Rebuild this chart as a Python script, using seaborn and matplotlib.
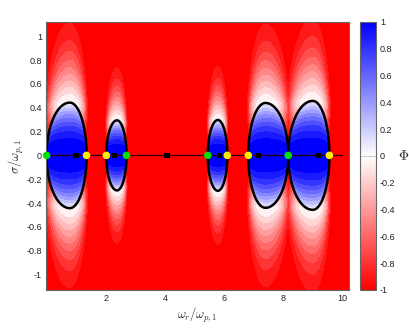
import numpy as np
import matplotlib
matplotlib.use("Agg")
import matplotlib.pyplot as plt
import seaborn as sns
import pandas as pd
from matplotlib.cm import ScalarMappable
from matplotlib.colors import Normalize

# ---- data ----
lobe_left = [0.00, 2.02, 5.45, 6.82, 8.17]
lobe_peak = [0.785, 2.38, 5.79, 7.40, 9.00]
lobe_right = [1.35, 2.70, 6.11, 8.17, 9.56]
lobe_height = [0.443, 0.294, 0.297, 0.44, 0.457]

green_x = [0.0, 2.70, 5.45, 8.17]
yellow_x = [1.35, 2.02, 6.11, 6.82, 9.56]
square_x = [0.99, 2.30, 4.08, 5.85, 7.17, 9.19]

cbar_ticks = [-1, -0.8, -0.6, -0.4, -0.2, 0, 0.2, 0.4, 0.6, 0.8, 1]
x_ticks = [2, 4, 6, 8, 10]
y_ticks = [-1, -0.8, -0.6, -0.4, -0.2, 0, 0.2, 0.4, 0.6, 0.8, 1]

sns.set_theme(style="white")
plt.rcParams['font.family'] = ['Liberation Sans', 'DejaVu Sans']
plt.rcParams['mathtext.fontset'] = 'cm'
plt.rcParams['axes.unicode_minus'] = False

fig = plt.figure(figsize=(4.09, 3.28), dpi=100)
ax = fig.add_axes([0.1125, 0.1159, 0.7405, 0.8171])
cax = fig.add_axes([0.880, 0.1159, 0.039, 0.8171])

xg = np.linspace(0.0, 10.25, 700)
yg = np.linspace(-1.13, 1.13, 451)
X, Y = np.meshgrid(xg, yg)

alpha = 0.1


def lobe_field(L, P, R, b):
    dx = X - P
    a = np.where(dx < 0, P - L, R - P)
    lo = np.full(X.shape, 1e-6)
    hi = np.full(X.shape, 30.0)
    for _ in range(45):
        k = 0.5 * (lo + hi)
        ak = np.where(k <= 1, a, a * (1 + alpha * (k - 1)))
        f = (dx / ak) ** 2 + (Y / (b * k)) ** 2 - 1
        inside = f <= 0
        hi = np.where(inside, k, hi)
        lo = np.where(inside, lo, k)
    s = 0.5 * (lo + hi)
    u2 = np.clip((dx / a) ** 2, 0, 0.999999)
    kin = np.abs(Y) / (b * (1 - u2) ** 0.25)
    phi_in = np.clip(1 - kin ** 2, 0, 1)
    v = np.abs(Y) / b
    phi_out = -np.tanh(0.9 * np.clip(s - 1, 0, None) ** 1.2 + 3.0 * np.clip(1 - v, 0, None) ** 1.5)
    return s, np.where(s < 1, phi_in, phi_out)


Ks = []
Phi = np.full(X.shape, -1.0)
for L, P, R, b in zip(lobe_left, lobe_peak, lobe_right, lobe_height):
    s, phi_i = lobe_field(L, P, R, b)
    Ks.append(s)
    Phi = np.maximum(Phi, phi_i)
Phi = np.clip(Phi, -0.9999, 0.9999)

cmap = plt.get_cmap('bwr_r')
levels = np.linspace(-1, 1, 21)
band_colors = [cmap(v) for v in np.linspace(0, 1, len(levels) - 1)]
ax.contourf(X, Y, Phi, levels=levels, colors=band_colors)
for K in Ks:
    ax.contour(X, Y, K, levels=[1.0], colors='black', linewidths=1.8)

line_df = pd.DataFrame({'x': [0.0, 10.0], 'y': [0.0, 0.0]})
sns.lineplot(data=line_df, x='x', y='y', color='#300000', lw=0.9, ax=ax)

g_df = pd.DataFrame({'x': green_x, 'y': np.zeros(len(green_x))})
y_df = pd.DataFrame({'x': yellow_x, 'y': np.zeros(len(yellow_x))})
s_df = pd.DataFrame({'x': square_x, 'y': np.zeros(len(square_x))})
sns.scatterplot(data=g_df, x='x', y='y', color='#00e000', s=30, edgecolor='none', ax=ax, zorder=5, clip_on=False)
sns.scatterplot(data=y_df, x='x', y='y', color='#ffee00', s=30, edgecolor='none', ax=ax, zorder=5, clip_on=False)
sns.scatterplot(data=s_df, x='x', y='y', color='black', marker='s', s=16, edgecolor='none', ax=ax, zorder=5, clip_on=False)

ax.set_xlim(-0.02, 10.22)
ax.set_ylim(-1.13, 1.12)
ax.set_xticks(x_ticks)
ax.set_yticks(y_ticks)
ax.set_xticklabels([f"{t:g}" for t in x_ticks])
ax.set_yticklabels([f"{t:g}" for t in y_ticks])
ax.tick_params(direction='in', length=3, width=0.6, colors='#555555', labelcolor='#222222',
               labelsize=6.5, top=True, right=True, bottom=True, left=True, pad=3)
for sp in ax.spines.values():
    sp.set_color('#666666')
    sp.set_linewidth(0.8)
ax.set_xlabel(r'$\omega_r/\omega_{p,1}$', fontsize=9, labelpad=2)
ax.set_ylabel(r'$\sigma/\omega_{p,1}$', fontsize=9, labelpad=0)

sm = ScalarMappable(norm=Normalize(-1, 1), cmap=cmap)
cb = fig.colorbar(sm, cax=cax)
cb.set_ticks(cbar_ticks)
cb.set_ticklabels([f"{t:g}" for t in cbar_ticks])
cax.axhline(0, color='#cccccc', lw=0.8)
cax.tick_params(direction='in', length=3, width=0.6, colors='#777777', labelcolor='#222222',
                labelsize=6.5, pad=3)
cb.outline.set_edgecolor('#666666')
cb.outline.set_linewidth(0.8)
cb.set_label(r'$\Phi$', rotation=0, fontsize=10, labelpad=6, va='center')

fig.savefig('out.png', dpi=100)
